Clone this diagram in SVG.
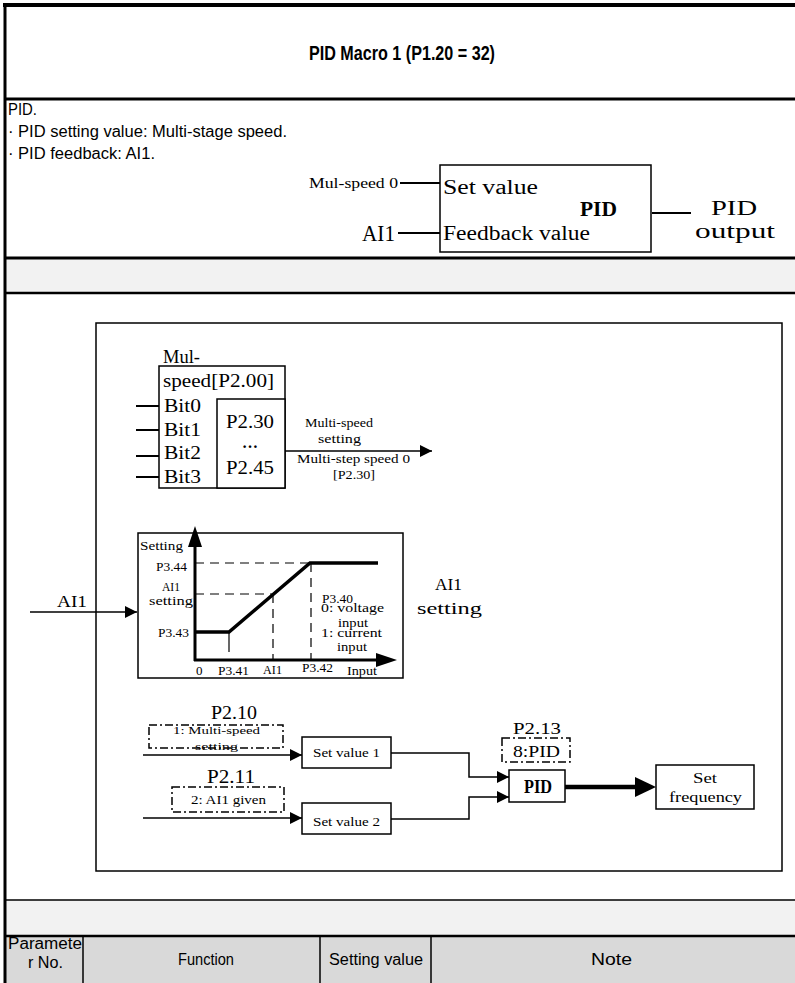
<svg xmlns="http://www.w3.org/2000/svg" width="795" height="983" viewBox="0 0 795 983">
<style>
.sa{font-family:"Liberation Sans",Arial,sans-serif;fill:#000}
.sr{font-family:"Liberation Serif","Times New Roman",serif;fill:#000}
.ln{stroke:#000;fill:none}
.box{fill:#fff;stroke:#000;stroke-width:1.5}
.dd{fill:none;stroke:#000;stroke-width:1.5;stroke-dasharray:8,3,2,3}
.dash{stroke:#000;stroke-width:1.2;stroke-dasharray:9,6;fill:none}
</style>
<defs>
<marker id="arr" markerUnits="userSpaceOnUse" markerWidth="14" markerHeight="14" refX="12" refY="6" orient="auto"><path d="M0,0 L12,6 L0,12 z" fill="#000"/></marker>
<marker id="arrBig" markerUnits="userSpaceOnUse" markerWidth="24" markerHeight="22" refX="10" refY="10" orient="auto"><path d="M0,0 L21,10 L0,20 z" fill="#000"/></marker>
<marker id="arrAx" markerUnits="userSpaceOnUse" markerWidth="24" markerHeight="16" refX="14" refY="7" orient="auto"><path d="M0,0 L21,7 L0,14 z" fill="#000"/></marker>
</defs>
<rect width="795" height="983" fill="#fff"/>
<!-- table frame -->
<g id="table">
<rect x="5" y="259" width="790" height="34" fill="#f2f2f2"/>
<rect x="5" y="900" width="790" height="36" fill="#f2f2f2"/>
<rect x="5" y="936" width="790" height="47" fill="#d9d9d9"/>
<line class="ln" x1="3" y1="5" x2="795" y2="5" stroke-width="4"/>
<line class="ln" x1="5" y1="3" x2="5" y2="983" stroke-width="3"/>
<line class="ln" x1="5" y1="99" x2="795" y2="99" stroke-width="3"/>
<line class="ln" x1="5" y1="258" x2="795" y2="258" stroke-width="3"/>
<line class="ln" x1="5" y1="293" x2="795" y2="293" stroke-width="2.5"/>
<line class="ln" x1="5" y1="900" x2="795" y2="900" stroke-width="1.5"/>
<line class="ln" x1="5" y1="936" x2="795" y2="936" stroke-width="2.5"/>
<line class="ln" x1="83" y1="936" x2="83" y2="983" stroke-width="1.5"/>
<line class="ln" x1="320" y1="936" x2="320" y2="983" stroke-width="1.5"/>
<line class="ln" x1="431" y1="936" x2="431" y2="983" stroke-width="1.5"/>
<text class="sa" x="309" y="60" font-size="20" font-weight="bold" textLength="186" lengthAdjust="spacingAndGlyphs">PID Macro 1 (P1.20 = 32)</text>
<text class="sa" x="8" y="115" font-size="16" textLength="29" lengthAdjust="spacingAndGlyphs">PID.</text>
<text class="sa" x="8" y="137" font-size="16" textLength="279" lengthAdjust="spacingAndGlyphs">· PID setting value: Multi-stage speed.</text>
<text class="sa" x="8" y="159" font-size="16" textLength="147" lengthAdjust="spacingAndGlyphs">· PID feedback: AI1.</text>
<text class="sa" x="8" y="949" font-size="16" textLength="74" lengthAdjust="spacingAndGlyphs">Paramete</text>
<text class="sa" x="28" y="968" font-size="16" textLength="35" lengthAdjust="spacingAndGlyphs">r No.</text>
<text class="sa" x="178" y="965" font-size="16" textLength="56" lengthAdjust="spacingAndGlyphs">Function</text>
<text class="sa" x="329" y="965" font-size="16" textLength="94" lengthAdjust="spacingAndGlyphs">Setting value</text>
<text class="sa" x="591" y="965" font-size="16" textLength="41" lengthAdjust="spacingAndGlyphs">Note</text>
</g>
<!-- top PID block -->
<g id="pid-top">
<rect class="box" x="440" y="165" width="211" height="87"/>
<text class="sr" x="443" y="194" font-size="20" textLength="95" lengthAdjust="spacingAndGlyphs">Set value</text>
<text class="sr" x="443" y="240" font-size="20" textLength="147" lengthAdjust="spacingAndGlyphs">Feedback value</text>
<text class="sr" x="580" y="216" font-size="21" font-weight="bold" textLength="37" lengthAdjust="spacingAndGlyphs">PID</text>
</g>
<g id="top-labels">
<text class="sr" x="309" y="188" font-size="14" textLength="89" lengthAdjust="spacingAndGlyphs">Mul-speed 0</text>
<text class="sr" x="362" y="241" font-size="23" textLength="33" lengthAdjust="spacingAndGlyphs">AI1</text>
<text class="sr" x="711" y="215" font-size="20" textLength="46" lengthAdjust="spacingAndGlyphs">PID</text>
<text class="sr" x="695" y="238" font-size="20" textLength="80" lengthAdjust="spacingAndGlyphs">output</text>
</g>
<!-- inner diagram frame -->
<rect id="frame" x="96" y="323" width="686" height="548" fill="none" stroke="#000" stroke-width="1.5"/>
<!-- multi speed block -->
<g id="mulspeed">
<text class="sr" x="163" y="363" font-size="19" textLength="37" lengthAdjust="spacingAndGlyphs">Mul-</text>
<rect class="box" x="159" y="366" width="126" height="122"/>
<text class="sr" x="163" y="387" font-size="19" textLength="111" lengthAdjust="spacingAndGlyphs">speed[P2.00]</text>
<rect class="box" x="217" y="399" width="68" height="89"/>
<text class="sr" x="164" y="412" font-size="19" textLength="37" lengthAdjust="spacingAndGlyphs">Bit0</text>
<text class="sr" x="164" y="436" font-size="19" textLength="37" lengthAdjust="spacingAndGlyphs">Bit1</text>
<text class="sr" x="164" y="459" font-size="19" textLength="37" lengthAdjust="spacingAndGlyphs">Bit2</text>
<text class="sr" x="164" y="483" font-size="19" textLength="37" lengthAdjust="spacingAndGlyphs">Bit3</text>
<text class="sr" x="226" y="428" font-size="19" textLength="48" lengthAdjust="spacingAndGlyphs">P2.30</text>
<text class="sr" x="250" y="448" font-size="16" text-anchor="middle" font-weight="bold">…</text>
<text class="sr" x="226" y="474" font-size="19" textLength="48" lengthAdjust="spacingAndGlyphs">P2.45</text>
</g>
<g id="mulspeed-labels">
<text class="sr" x="305" y="427" font-size="12" textLength="68" lengthAdjust="spacingAndGlyphs">Multi-speed</text>
<text class="sr" x="318" y="443" font-size="12" textLength="43" lengthAdjust="spacingAndGlyphs">setting</text>
<text class="sr" x="297" y="463" font-size="12" textLength="113" lengthAdjust="spacingAndGlyphs">Multi-step speed 0</text>
<text class="sr" x="333" y="479" font-size="12" textLength="42" lengthAdjust="spacingAndGlyphs">[P2.30]</text>
</g>
<!-- AI1 curve graph -->
<g id="ai1-graph">
<rect class="box" x="138" y="533" width="265" height="145"/>
<line class="ln" x1="195" y1="661" x2="195" y2="533" stroke-width="3" marker-end="url(#arrAx)"/>
<line class="ln" x1="194" y1="660" x2="390" y2="660" stroke-width="3" marker-end="url(#arrAx)"/>
<line class="dash" x1="195" y1="563" x2="310" y2="563"/>
<line class="dash" x1="195" y1="594" x2="272" y2="594"/>
<line class="dash" x1="273" y1="594" x2="273" y2="660"/>
<line class="dash" x1="311" y1="563" x2="311" y2="660"/>
<line class="ln" x1="229" y1="632" x2="229" y2="652" stroke-width="1.2"/>
<polyline class="ln" points="195,632 229,632 310,563 378,563" stroke-width="3.5"/>
<text class="sr" x="140" y="550" font-size="13" textLength="43" lengthAdjust="spacingAndGlyphs">Setting</text>
<text class="sr" x="156" y="571" font-size="13" textLength="31" lengthAdjust="spacingAndGlyphs">P3.44</text>
<text class="sr" x="162" y="591" font-size="13" textLength="18" lengthAdjust="spacingAndGlyphs">AI1</text>
<text class="sr" x="149" y="605" font-size="13" textLength="44" lengthAdjust="spacingAndGlyphs">setting</text>
<text class="sr" x="158" y="637" font-size="13" textLength="31" lengthAdjust="spacingAndGlyphs">P3.43</text>
<text class="sr" x="322" y="603" font-size="13" textLength="31" lengthAdjust="spacingAndGlyphs">P3.40</text>
<text class="sr" x="321" y="612" font-size="13" textLength="63" lengthAdjust="spacingAndGlyphs">0: voltage</text>
<text class="sr" x="338" y="627" font-size="13" textLength="30" lengthAdjust="spacingAndGlyphs">input</text>
<text class="sr" x="321" y="637" font-size="13" textLength="61" lengthAdjust="spacingAndGlyphs">1: current</text>
<text class="sr" x="337" y="651" font-size="13" textLength="30" lengthAdjust="spacingAndGlyphs">input</text>
<text class="sr" x="196" y="675" font-size="13">0</text>
<text class="sr" x="218" y="675" font-size="13" textLength="31" lengthAdjust="spacingAndGlyphs">P3.41</text>
<text class="sr" x="263" y="674" font-size="13" textLength="19" lengthAdjust="spacingAndGlyphs">AI1</text>
<text class="sr" x="302" y="672" font-size="13" textLength="31" lengthAdjust="spacingAndGlyphs">P3.42</text>
<text class="sr" x="347" y="675" font-size="13" textLength="30" lengthAdjust="spacingAndGlyphs">Input</text>
</g>
<g id="ai1-labels">
<text class="sr" x="57" y="607" font-size="16" textLength="30" lengthAdjust="spacingAndGlyphs">AI1</text>
<text class="sr" x="435" y="590" font-size="16" textLength="27" lengthAdjust="spacingAndGlyphs">AI1</text>
<text class="sr" x="417" y="614" font-size="16" textLength="65" lengthAdjust="spacingAndGlyphs">setting</text>
</g>
<!-- parameter tags -->
<g id="p210">
<text class="sr" x="211" y="719" font-size="19" textLength="46" lengthAdjust="spacingAndGlyphs">P2.10</text>
<rect class="dd" x="149" y="725" width="134" height="23"/>
<text class="sr" x="173" y="734" font-size="11" textLength="87" lengthAdjust="spacingAndGlyphs">1: Multi-speed</text>
<text class="sr" x="195" y="750" font-size="11" textLength="43" lengthAdjust="spacingAndGlyphs">setting</text>
</g>
<g id="p211">
<text class="sr" x="207" y="783" font-size="19" textLength="48" lengthAdjust="spacingAndGlyphs">P2.11</text>
<rect class="dd" x="172" y="787" width="112" height="25"/>
<text class="sr" x="191" y="804" font-size="12" textLength="75" lengthAdjust="spacingAndGlyphs">2: AI1 given</text>
</g>
<g id="setvalue1">
<rect class="box" x="302" y="737" width="89" height="31"/>
<text class="sr" x="313" y="757" font-size="12" textLength="67" lengthAdjust="spacingAndGlyphs">Set value 1</text>
</g>
<g id="setvalue2">
<rect class="box" x="302" y="803" width="89" height="31"/>
<text class="sr" x="313" y="826" font-size="12" textLength="67" lengthAdjust="spacingAndGlyphs">Set value 2</text>
</g>
<g id="p213">
<text class="sr" x="513" y="734" font-size="17" textLength="48" lengthAdjust="spacingAndGlyphs">P2.13</text>
<rect class="dd" x="502" y="738" width="68" height="24"/>
<text class="sr" x="513" y="757" font-size="17" textLength="47" lengthAdjust="spacingAndGlyphs">8:PID</text>
</g>
<g id="pid-small">
<rect class="box" x="509" y="770" width="56" height="32"/>
<text class="sr" x="524" y="793" font-size="18" font-weight="bold" textLength="28" lengthAdjust="spacingAndGlyphs">PID</text>
</g>
<g id="setfreq">
<rect class="box" x="656" y="765" width="98" height="44"/>
<text class="sr" x="693" y="783" font-size="14" textLength="24" lengthAdjust="spacingAndGlyphs">Set</text>
<text class="sr" x="669" y="802" font-size="14" textLength="73" lengthAdjust="spacingAndGlyphs">frequency</text>
</g>
<!-- connectors -->
<g id="connectors" class="ln" stroke-width="2">
<line x1="400" y1="183" x2="440" y2="183"/>
<line x1="398" y1="233" x2="440" y2="233"/>
<line x1="652" y1="213" x2="691" y2="213"/>
<line x1="136" y1="406" x2="159" y2="406"/>
<line x1="136" y1="430" x2="159" y2="430"/>
<line x1="136" y1="456" x2="159" y2="456"/>
<line x1="136" y1="477" x2="159" y2="477"/>
<line x1="285" y1="451" x2="432" y2="451" stroke-width="1.5" marker-end="url(#arr)"/>
<line x1="30" y1="612" x2="137" y2="612" stroke-width="1.5" marker-end="url(#arr)"/>
<line x1="143" y1="755" x2="302" y2="755" stroke-width="1.5" marker-end="url(#arr)"/>
<line x1="143" y1="818" x2="302" y2="818" stroke-width="1.5" marker-end="url(#arr)"/>
<polyline points="391,753 469,753 469,777 509,777" stroke-width="1.5" marker-end="url(#arr)"/>
<polyline points="391,819 469,819 469,797 509,797" stroke-width="1.5" marker-end="url(#arr)"/>
<line x1="565" y1="787" x2="645" y2="787" stroke-width="4.5" marker-end="url(#arrBig)"/>
</g>
</svg>
